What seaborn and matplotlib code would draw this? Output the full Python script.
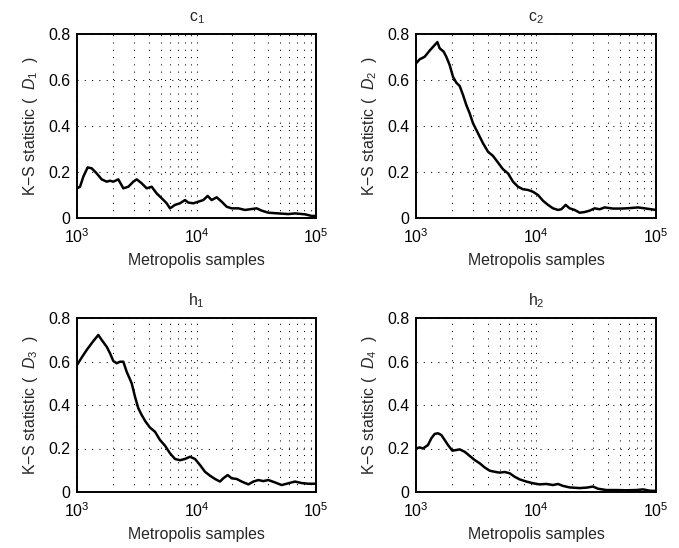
import numpy as np
import pandas as pd
import matplotlib
matplotlib.use("Agg")
import matplotlib.pyplot as plt
import matplotlib.ticker as mticker
import seaborn as sns

# ---- data ----
c1_samples = [1000, 1060, 1130, 1228, 1327, 1461, 1609, 1771, 1889, 2014, 2218, 2442, 2689, 2961,
              3158, 3477, 3828, 4215, 4642, 5110, 5628, 6001, 6610, 7277, 8013, 8545, 9408, 10360,
              11410, 12400, 13390, 14750, 16240, 17880, 19700, 22390, 25460, 28040, 31880, 35110,
              39920, 48400, 58680, 66730, 80920, 91990, 100000]
c1_D = [0.129, 0.136, 0.18, 0.22, 0.216, 0.194, 0.168, 0.158, 0.162, 0.158, 0.168, 0.129, 0.136, 0.158,
        0.168, 0.151, 0.129, 0.136, 0.107, 0.086, 0.064, 0.042, 0.057, 0.064, 0.078, 0.067, 0.064, 0.071,
        0.078, 0.096, 0.078, 0.09, 0.071, 0.049, 0.042, 0.042, 0.035, 0.038, 0.042, 0.032,
        0.023, 0.02, 0.017, 0.02, 0.016, 0.009, 0.009]

c2_samples = [1000, 1073, 1181, 1300, 1431, 1506, 1575, 1701, 1789, 1908, 2034, 2169, 2312, 2465, 2627,
              2801, 2985, 3183, 3393, 3617, 3981, 4382, 4824, 5309, 5843, 6432, 7079, 7792, 8577, 9441,
              10390, 11440, 12590, 13860, 15250, 16260, 17670, 19080, 21000, 23110, 25440, 28010,
              30830, 33930, 37350, 43820, 51410, 60350, 70790, 83070, 100000]
c2_D = [0.672, 0.69, 0.701, 0.728, 0.752, 0.765, 0.738, 0.723, 0.701, 0.665, 0.614, 0.588, 0.574, 0.535,
        0.491, 0.455, 0.412, 0.383, 0.354, 0.325, 0.288, 0.27, 0.241, 0.212, 0.194, 0.158, 0.136, 0.125,
        0.122, 0.114, 0.1, 0.075, 0.057, 0.042, 0.035, 0.038, 0.057, 0.042, 0.035, 0.023, 0.026, 0.032,
        0.042, 0.038, 0.046, 0.041, 0.041, 0.043, 0.046, 0.041, 0.035]

h1_samples = [1000, 1094, 1205, 1370, 1508, 1609, 1771, 1889, 2014, 2148, 2290, 2442, 2604, 2868, 3058,
              3260, 3477, 3754, 4082, 4495, 4950, 5450, 6001, 6610, 7277, 8013, 8822, 9714, 10700,
              11780, 12970, 14280, 15730, 16770, 18230, 19700, 21690, 23880, 27150, 29900, 32920,
              36250, 39920, 45380, 51590, 58680, 66730, 75890, 86290, 100000]
h1_D = [0.584, 0.618, 0.653, 0.694, 0.722, 0.699, 0.668, 0.638, 0.602, 0.592, 0.599, 0.599, 0.553, 0.5,
        0.438, 0.385, 0.354, 0.323, 0.296, 0.277, 0.239, 0.213, 0.178, 0.152, 0.146, 0.152, 0.162, 0.152,
        0.124, 0.093, 0.075, 0.06, 0.048, 0.063, 0.078, 0.063, 0.06, 0.048, 0.035, 0.048, 0.055,
        0.05, 0.055, 0.044, 0.032, 0.04, 0.048, 0.041, 0.038, 0.038]

h2_samples = [1000, 1073, 1144, 1259, 1342, 1431, 1525, 1626, 1734, 1848, 2008, 2169, 2312, 2544, 2801,
              3083, 3393, 3735, 4111, 4525, 4981, 5483, 6035, 6643, 7311, 8308, 9441, 10730, 12190,
              13860, 15250, 16790, 19080, 23110, 26270, 29850, 32870, 38560, 46700, 56590, 68570,
              77960, 88540, 100000]
h2_D = [0.2, 0.205, 0.2, 0.216, 0.247, 0.267, 0.27, 0.262, 0.239, 0.216, 0.19, 0.193, 0.196, 0.185,
        0.166, 0.147, 0.132, 0.113, 0.098, 0.093, 0.089, 0.092, 0.086, 0.07, 0.058, 0.048, 0.04, 0.035,
        0.037, 0.032, 0.037, 0.028, 0.021, 0.018, 0.02, 0.025, 0.015, 0.009, 0.009, 0.008, 0.009,
        0.012, 0.006, 0.005]

titles = ["c$_1$", "c$_2$", "h$_1$", "h$_2$"]
ylabels = ["K\u2212S statistic (  $\\mathit{D}_{1}$  )", "K\u2212S statistic (  $\\mathit{D}_{2}$  )",
           "K\u2212S statistic (  $\\mathit{D}_{3}$  )", "K\u2212S statistic (  $\\mathit{D}_{4}$  )"]
xlabel = "Metropolis samples"
yticks = [0, 0.2, 0.4, 0.6, 0.8]
ytick_labels = ["0", "0.2", "0.4", "0.6", "0.8"]

series = [(c1_samples, c1_D), (c2_samples, c2_D), (h1_samples, h1_D), (h2_samples, h2_D)]

# ---- style ----
sns.set_style("white")
plt.rcParams["font.family"] = ["Liberation Sans", "DejaVu Sans"]
plt.rcParams["mathtext.fontset"] = "custom"
plt.rcParams["mathtext.rm"] = "Liberation Sans"
plt.rcParams["mathtext.it"] = "Liberation Sans:italic"
plt.rcParams["mathtext.default"] = "regular"

FS = 11.4
W, H = 679, 548
fig = plt.figure(figsize=(W / 100, H / 100), dpi=100)

# axes boxes in pixels: (left, top, right, bottom)
boxes = [(77, 34, 316, 218), (416, 34, 656, 218), (77, 318, 316, 492), (416, 318, 656, 492)]
grid_style = dict(linestyle=(0, (1, 6)), color="black", linewidth=0.75)

for (xs, ys), (l, t, r, b), title, ylab in zip(series, boxes, titles, ylabels):
    ax = fig.add_axes([l / W, 1 - b / H, (r - l) / W, (b - t) / H])
    df = pd.DataFrame({"samples": xs, "D": ys})
    sns.lineplot(data=df, x="samples", y="D", ax=ax, color="black", linewidth=1.8,
                 estimator=None, sort=False)
    ax.set_xscale("log")
    ax.set_xlim(1e3, 1e5)
    ax.set_ylim(0, 0.8)
    ax.set_yticks(yticks)
    ax.set_yticklabels(ytick_labels)
    ax.xaxis.set_major_locator(mticker.LogLocator(base=10, numticks=5))
    ax.xaxis.set_minor_locator(mticker.LogLocator(base=10, subs=np.arange(2, 10), numticks=20))
    ax.xaxis.set_minor_formatter(mticker.NullFormatter())
    ax.grid(True, axis="x", which="both", **grid_style)
    ax.grid(True, axis="y", which="major", **grid_style)
    ax.tick_params(axis="both", which="both", direction="in", labelsize=FS, colors="black")
    ax.tick_params(axis="both", which="major", length=4, width=0.8, pad=5)
    ax.tick_params(axis="x", which="major", pad=7)
    ax.tick_params(axis="x", which="minor", length=2, width=0.6)
    for s in ax.spines.values():
        s.set_visible(True)
        s.set_color("black")
        s.set_linewidth(1.4)
    ax.set_title(title, fontsize=FS, pad=9)
    ax.set_xlabel(xlabel, fontsize=FS, labelpad=5)
    ax.set_ylabel(ylab, fontsize=FS, labelpad=6)

fig.savefig("out.png", dpi=100)
